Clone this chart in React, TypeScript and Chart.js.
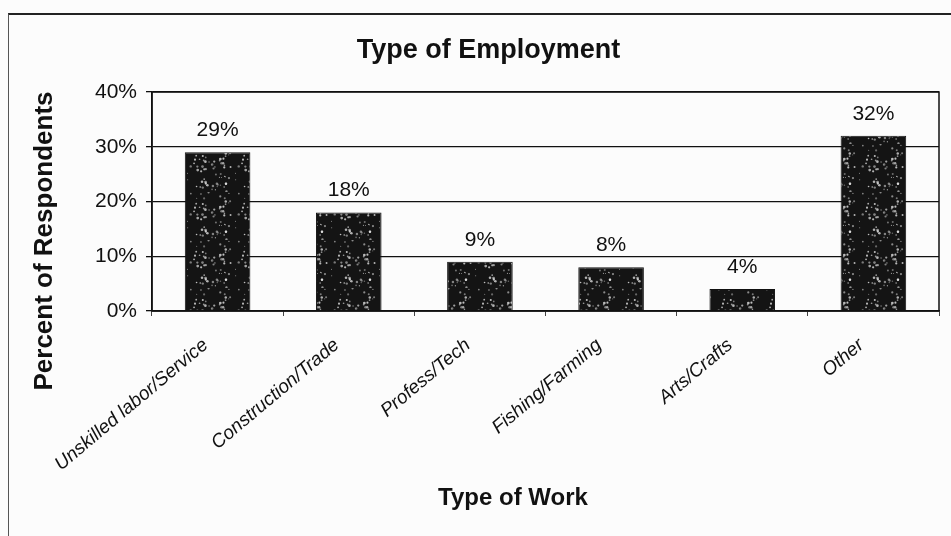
import React, { useEffect, useRef } from 'react';
import { Chart, registerables } from 'chart.js';

Chart.register(...registerables);

const categories = [
  'Unskilled labor/Service',
  'Construction/Trade',
  'Profess/Tech',
  'Fishing/Farming',
  'Arts/Crafts',
  'Other',
];
const percents = [29, 18, 9, 8, 4, 32];
const yTickValues = [0, 10, 20, 30, 40];
const chartTitle = 'Type of Employment';
const xAxisTitle = 'Type of Work';
const yAxisTitle = 'Percent of Respondents';

const FONT = '"Liberation Sans", Arial, Helvetica, sans-serif';

function makeSpecklePattern(): CanvasPattern | string {
  const pc = document.createElement('canvas');
  pc.width = 48;
  pc.height = 48;
  const c = pc.getContext('2d');
  if (!c) return '#1a1a1a';
  c.fillStyle = '#141414';
  c.fillRect(0, 0, 48, 48);
  let s = 12345;
  const next = () => {
    s = (s * 1103515245 + 12345) & 0x7fffffff;
    return s / 0x7fffffff;
  };
  for (let i = 0; i < 70; i++) {
    const x = next() * 48;
    const y = next() * 48;
    const r = 0.5 + next() * 0.9;
    const g = Math.round(130 + next() * 120);
    c.fillStyle = `rgba(${g},${g},${g},0.75)`;
    c.beginPath();
    c.arc(x, y, r, 0, Math.PI * 2);
    c.fill();
  }
  const p = c.createPattern(pc, 'repeat');
  return p || '#1a1a1a';
}

const plotFrame = {
  id: 'plotFrame',
  afterDraw(chart: any) {
    const { ctx, chartArea } = chart;
    ctx.save();
    ctx.strokeStyle = '#111';
    ctx.lineWidth = 1.5;
    ctx.strokeRect(chartArea.left, chartArea.top, chartArea.right - chartArea.left, chartArea.bottom - chartArea.top);
    ctx.restore();
  },
};

const valueLabels = {
  id: 'valueLabels',
  afterDatasetsDraw(chart: any) {
    const { ctx } = chart;
    const meta = chart.getDatasetMeta(0);
    ctx.save();
    ctx.font = `21px ${FONT}`;
    ctx.fillStyle = '#111';
    ctx.textAlign = 'center';
    ctx.textBaseline = 'alphabetic';
    meta.data.forEach((el: any, i: number) => {
      const { x, y } = el.getProps(['x', 'y'], true);
      ctx.fillText(`${percents[i]}%`, x, y - 16);
    });
    ctx.restore();
  },
};

const axisTitles = {
  id: 'axisTitles',
  afterDraw(chart: any) {
    const { ctx } = chart;
    ctx.save();
    ctx.fillStyle = '#111';
    ctx.textAlign = 'center';
    ctx.textBaseline = 'middle';
    ctx.font = `bold 24px ${FONT}`;
    ctx.fillText(xAxisTitle, 513, 498);
    ctx.font = `bold 26px ${FONT}`;
    ctx.translate(45, 241);
    ctx.rotate(-Math.PI / 2);
    ctx.fillText(yAxisTitle, 0, 0);
    ctx.restore();
  },
};

export default function App() {
  const canvasRef = useRef<HTMLCanvasElement | null>(null);

  useEffect(() => {
    if (!canvasRef.current) return;
    const pattern = makeSpecklePattern();
    const chart = new Chart(canvasRef.current, {
      type: 'bar',
      data: {
        labels: categories,
        datasets: [
          {
            data: percents,
            backgroundColor: pattern as any,
            borderColor: '#111',
            borderWidth: 1,
            barPercentage: 0.5,
            categoryPercentage: 1,
          },
        ],
      },
      options: {
        animation: false,
        responsive: true,
        maintainAspectRatio: false,
        layout: { padding: { left: 38, right: 12, top: 0, bottom: 0 } },
        plugins: {
          legend: { display: false },
          tooltip: { enabled: false },
          title: {
            display: true,
            text: chartTitle,
            color: '#111',
            font: { family: FONT, size: 27, weight: 'bold' },
            padding: { top: 34, bottom: 25.6 },
          },
        },
        scales: {
          x: {
            grid: {
              display: true,
              drawOnChartArea: false,
              drawTicks: true,
              tickLength: 5,
              color: '#444',
              offset: true,
            },
            border: { display: true, color: '#111', width: 1.5 },
            ticks: {
              color: '#111',
              font: { family: FONT, size: 19, style: 'italic' },
              maxRotation: 40,
              minRotation: 40,
              padding: 18,
              labelOffset: -12,
              autoSkip: false,
            },
            afterFit: (scale: any) => {
              scale.height = 225;
            },
          },
          y: {
            min: 0,
            max: 40,
            afterBuildTicks: (scale: any) => {
              scale.ticks = yTickValues.map((v) => ({ value: v }));
            },
            grid: {
              color: '#111',
              lineWidth: 1.3,
              tickLength: 6,
              drawTicks: true,
            },
            border: { display: true, color: '#111', width: 1.5 },
            ticks: {
              color: '#111',
              font: { family: FONT, size: 21 },
              padding: 9,
              callback: (v: any) => `${v}%`,
            },
            afterFit: (scale: any) => {
              scale.width = 114;
            },
          },
        },
      },
      plugins: [valueLabels, plotFrame, axisTitles],
    });
    return () => chart.destroy();
  }, []);

  return (
    <div
      style={{
        position: 'fixed',
        left: 0,
        top: 0,
        width: 951,
        height: 536,
        background: '#fcfcfc',
        overflow: 'hidden',
      }}
    >
      <div
        style={{
          position: 'absolute',
          left: 8,
          top: 13,
          width: 960,
          height: 600,
          borderTop: '2px solid #222',
          borderLeft: '1.5px solid #555',
          boxSizing: 'border-box',
        }}
      />
      <div style={{ position: 'absolute', left: 0, top: 0, width: 951, height: 536 }}>
        <canvas ref={canvasRef} />
      </div>
    </div>
  );
}
